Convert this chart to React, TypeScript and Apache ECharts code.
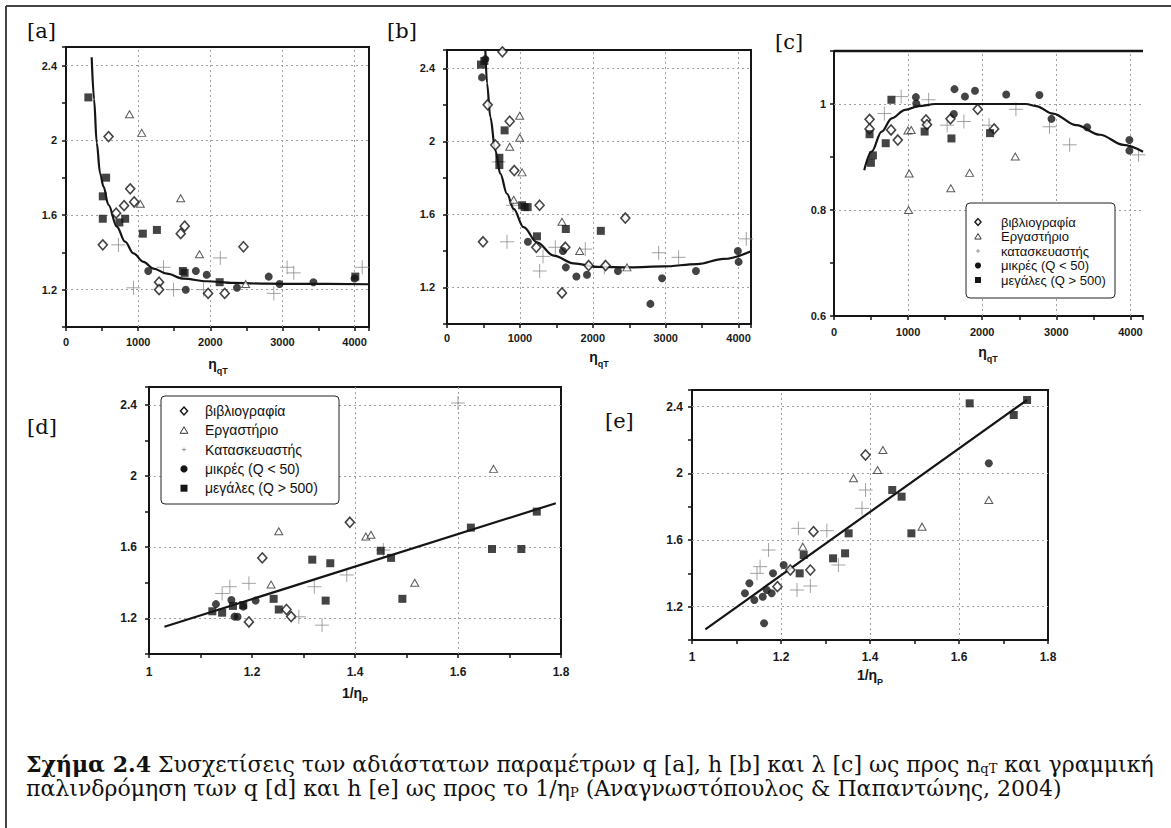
import { useEffect, useRef } from 'react';
import * as echarts from 'echarts';

type Pt = [number, number];

// ---------- [a] q vs n_qT ----------
const aSquares: Pt[] = [[310, 2.23], [556, 1.8], [510, 1.7], [510, 1.58], [820, 1.58], [740, 1.56], [1065, 1.5], [1260, 1.52], [1620, 1.3], [1644, 1.29], [2130, 1.24], [4010, 1.27]];
const aCircles: Pt[] = [[1140, 1.3], [1660, 1.2], [1800, 1.3], [1950, 1.28], [2370, 1.21], [2810, 1.27], [2960, 1.23], [3430, 1.24], [4000, 1.26]];
const aDiamonds: Pt[] = [[590, 2.02], [890, 1.74], [805, 1.65], [945, 1.67], [695, 1.61], [510, 1.44], [1590, 1.5], [1645, 1.54], [1290, 1.24], [1290, 1.2], [1970, 1.18], [2200, 1.18], [2460, 1.43]];
const aTriangles: Pt[] = [[880, 2.14], [1050, 2.04], [1030, 1.66], [1590, 1.69], [1850, 1.39], [2490, 1.23]];
const aCrosses: Pt[] = [[935, 1.21], [727, 1.44], [1352, 1.32], [1490, 1.2], [1907, 1.2], [2139, 1.37], [3065, 1.32], [3157, 1.29], [4106, 1.32], [2880, 1.18]];
const aCurve: Pt[] = [[356, 2.445], [389, 2.22], [426, 1.987], [472, 1.825], [519, 1.753], [588, 1.655], [704, 1.538], [819, 1.457], [935, 1.394], [1074, 1.349], [1213, 1.313], [1398, 1.286], [1630, 1.259], [1954, 1.245], [2324, 1.236], [2787, 1.232], [3250, 1.231], [4200, 1.229]];

// ---------- [b] h vs n_qT ----------
const bSquares: Pt[] = [[466, 2.42], [512, 2.44], [790, 2.06], [718, 1.91], [718, 1.87], [1030, 1.65], [1065, 1.64], [1106, 1.64], [1234, 1.48], [1630, 1.52], [2110, 1.51]];
const bCircles: Pt[] = [[480, 2.35], [526, 2.45], [1110, 1.45], [1590, 1.4], [1630, 1.31], [1775, 1.26], [1920, 1.27], [2345, 1.29], [2790, 1.11], [2950, 1.25], [3415, 1.29], [3990, 1.4], [4000, 1.34]];
const bDiamonds: Pt[] = [[558, 2.2], [860, 2.11], [663, 1.98], [923, 1.84], [1270, 1.65], [494, 1.45], [1225, 1.42], [1623, 1.42], [1577, 1.17], [1943, 1.32], [2176, 1.32], [2446, 1.58], [760, 2.49]];
const bTriangles: Pt[] = [[997, 2.14], [997, 2.02], [860, 1.97], [1030, 1.83], [915, 1.68], [1577, 1.56], [1820, 1.4], [2469, 1.31]];
const bCrosses: Pt[] = [[823, 1.45], [1271, 1.29], [1317, 1.37], [1486, 1.42], [1897, 1.41], [2158, 1.31], [2903, 1.39], [3177, 1.365], [4105, 1.466], [709, 1.887], [905, 1.65]];
const bCurve: Pt[] = [[526, 2.5], [549, 2.318], [594, 2.134], [663, 1.951], [731, 1.823], [823, 1.713], [914, 1.63], [1051, 1.53], [1234, 1.447], [1463, 1.374], [1737, 1.332], [2057, 1.313], [2514, 1.31], [2971, 1.315], [3429, 1.328], [3794, 1.356], [4170, 1.398]];

// ---------- [c] λ vs n_qT ----------
const cSquares: Pt[] = [[480, 0.943], [498, 0.889], [525, 0.903], [698, 0.926], [775, 1.008], [1223, 0.948], [1585, 0.935], [2106, 0.945]];
const cCircles: Pt[] = [[1105, 1.013], [1110, 1.001], [1626, 1.028], [1617, 0.981], [1767, 1.014], [1903, 1.025], [2324, 1.018], [2772, 1.017], [2935, 0.972], [3416, 0.956], [3986, 0.932], [3986, 0.912]];
const cDiamonds: Pt[] = [[480, 0.971], [480, 0.953], [770, 0.951], [861, 0.932], [1241, 0.97], [1255, 0.961], [1572, 0.972], [1939, 0.99], [2161, 0.953]];
const cTriangles: Pt[] = [[997, 0.95], [1042, 0.951], [1015, 0.869], [1006, 0.8], [1576, 0.841], [1830, 0.87], [2446, 0.901]];
const cCrosses: Pt[] = [[906, 1.014], [1277, 1.008], [1527, 0.96], [1753, 0.967], [2455, 0.99], [2908, 0.957], [3180, 0.923], [2093, 0.96], [4109, 0.904], [680, 0.982]];
const cCurve: Pt[] = [[408, 0.875], [507, 0.91], [643, 0.948], [779, 0.973], [960, 0.989], [1142, 0.996], [1368, 1.0], [2591, 1.0], [2727, 0.996], [2954, 0.982], [3271, 0.96], [3588, 0.942], [3905, 0.923], [4170, 0.91]];

// ---------- [d] q vs 1/η_P ----------
const dSquares: Pt[] = [[1.123, 1.24], [1.142, 1.232], [1.163, 1.27], [1.183, 1.275], [1.242, 1.31], [1.252, 1.25], [1.317, 1.53], [1.352, 1.51], [1.343, 1.3], [1.45, 1.58], [1.47, 1.54], [1.492, 1.31], [1.625, 1.71], [1.666, 1.59], [1.723, 1.59], [1.753, 1.8]];
const dCircles: Pt[] = [[1.13, 1.28], [1.16, 1.303], [1.166, 1.21], [1.172, 1.209], [1.183, 1.266], [1.207, 1.3]];
const dDiamonds: Pt[] = [[1.22, 1.54], [1.194, 1.18], [1.267, 1.25], [1.276, 1.21], [1.39, 1.74]];
const dTriangles: Pt[] = [[1.252, 1.69], [1.237, 1.39], [1.421, 1.66], [1.431, 1.67], [1.516, 1.4], [1.669, 2.04]];
const dCrosses: Pt[] = [[1.157, 1.378], [1.194, 1.397], [1.384, 1.444], [1.336, 1.162], [1.6, 2.41], [1.321, 1.378], [1.291, 1.209], [1.455, 1.584], [1.142, 1.34]];
const dLine: Pt[] = [[1.03, 1.153], [1.79, 1.847]];

// ---------- [e] h vs 1/η_P ----------
const eSquares: Pt[] = [[1.251, 1.51], [1.242, 1.4], [1.317, 1.49], [1.344, 1.52], [1.352, 1.64], [1.45, 1.9], [1.471, 1.86], [1.493, 1.64], [1.624, 2.42], [1.723, 2.35], [1.753, 2.44]];
const eCircles: Pt[] = [[1.119, 1.28], [1.129, 1.34], [1.14, 1.24], [1.159, 1.26], [1.162, 1.1], [1.168, 1.3], [1.179, 1.28], [1.182, 1.4], [1.206, 1.45], [1.667, 2.06]];
const eDiamonds: Pt[] = [[1.39, 2.11], [1.273, 1.65], [1.266, 1.42], [1.221, 1.42], [1.192, 1.32]];
const eTriangles: Pt[] = [[1.429, 2.14], [1.417, 2.02], [1.363, 1.97], [1.249, 1.56], [1.517, 1.68], [1.667, 1.84]];
const eCrosses: Pt[] = [[1.382, 1.79], [1.39, 1.9], [1.303, 1.656], [1.239, 1.67], [1.172, 1.54], [1.146, 1.4], [1.153, 1.44], [1.236, 1.3], [1.266, 1.324], [1.329, 1.45]];
const eLine: Pt[] = [[1.03, 1.064], [1.753, 2.44]];

// ---------- tick labels & grid lines ----------
const nqtLabels = [0, 1000, 2000, 3000, 4000];
const qhLabels = [1.2, 1.6, 2, 2.4];
const lambdaLabels = [0.6, 0.8, 1];
const etaLabels = [1, 1.2, 1.4, 1.6, 1.8];
const nqtGrid = [1000, 2000, 3000, 4000];
const qhGrid = [1.2, 1.6, 2, 2.4];
const lambdaGrid = [0.8, 1];
const dEtaGrid = [1.4, 1.6];
const eEtaGrid = [1.2, 1.4, 1.6];

const legendC = ['βιβλιογραφία', 'Εργαστήριο', 'κατασκευαστής', 'μικρές (Q < 50)', 'μεγάλες (Q > 500)'];
const legendD = ['βιβλιογραφία', 'Εργαστήριο', 'Κατασκευαστής', 'μικρές (Q < 50)', 'μεγάλες (Q > 500)'];
const panelLabels = ['[a]', '[b]', '[c]', '[d]', '[e]'];
const captionLine1 = '{b|Σχήμα 2.4} Συσχετίσεις των αδιάστατων παραμέτρων q [a], h [b] και λ [c] ως προς n{s|qT} και γραμμική';
const captionLine2 = 'παλινδρόμηση των q [d] και h [e] ως προς το 1/η{s|P} (Αναγνωστόπουλος & Παπαντώνης, 2004)';

const SANS = '"Liberation Sans", Arial, sans-serif';
const SERIF = '"DejaVu Serif", serif';
const INK = '#151515';

// layout (pixels)
const GRIDS = [
  { left: 66, top: 47, width: 303, height: 280 },
  { left: 447, top: 50, width: 304, height: 274 },
  { left: 834, top: 51, width: 309, height: 265 },
  { left: 149, top: 387, width: 412, height: 267 },
  { left: 692, top: 390, width: 356, height: 250 },
];

function has(arr: number[], v: number) {
  return arr.some((a) => Math.abs(a - v) < 1e-6);
}
function fmt(v: number) {
  return String(Math.round(v * 100) / 100);
}

function axisCfg(gi: number, min: number, max: number, interval: number, labels: number[], fs: number, margin: number) {
  return {
    type: 'value', gridIndex: gi, min, max, interval,
    axisLine: { show: true, onZero: false, lineStyle: { color: INK, width: 2 } },
    axisTick: { show: true, inside: false, length: 4, lineStyle: { color: INK, width: 1.5 } },
    axisLabel: {
      show: true, margin, color: '#1a1a1a', fontSize: fs, fontWeight: 'bold', fontFamily: SANS,
      hideOverlap: false, showMinLabel: true, showMaxLabel: true,
      formatter: (v: number) => (has(labels, v) ? fmt(v) : ''),
    },
    splitLine: { show: false },
  };
}

type Kind = 'sq' | 'ci' | 'di' | 'tr' | 'cr';
function sc(gi: number, data: Pt[], kind: Kind) {
  const base: any = { type: 'scatter', xAxisIndex: gi, yAxisIndex: gi, data, silent: true, z: kind === 'cr' ? 3 : 5, clip: true };
  if (kind === 'sq') return { ...base, symbol: 'rect', symbolSize: 8, itemStyle: { color: INK } };
  if (kind === 'ci') return { ...base, symbol: 'circle', symbolSize: 8, itemStyle: { color: INK } };
  if (kind === 'di') return { ...base, symbol: 'diamond', symbolSize: [9, 10], itemStyle: { color: '#fff', borderColor: INK, borderWidth: 1.6 } };
  if (kind === 'tr') return { ...base, symbol: 'triangle', symbolSize: [8, 7], itemStyle: { color: '#fff', borderColor: '#333', borderWidth: 1 } };
  return { ...base, symbol: 'path://M0,7H14M7,0V14', symbolSize: 14, itemStyle: { color: 'none', borderColor: '#8c8c8c', borderWidth: 1 } };
}
function curve(gi: number, data: Pt[], smooth: boolean) {
  return {
    type: 'line', xAxisIndex: gi, yAxisIndex: gi, data, smooth: smooth ? 0.35 : false, smoothMonotone: 'x',
    showSymbol: false, symbol: 'none', silent: true, z: 4, clip: true,
    lineStyle: { color: INK, width: 2.2 },
  };
}
function gridLines(gi: number, gx: number[], gy: number[]) {
  return {
    type: 'line', xAxisIndex: gi, yAxisIndex: gi, data: [], silent: true, z: 1, symbol: 'none',
    markLine: {
      z: 1, silent: true, symbol: ['none', 'none'], label: { show: false }, emphasis: { disabled: true },
      lineStyle: { color: '#a0a0a0', type: [2, 3], width: 1 },
      data: [...gx.map((v) => ({ xAxis: v })), ...gy.map((v) => ({ yAxis: v }))],
    },
  };
}

function legendEls(x: number, y: number, w: number, h: number, names: string[], row0: number, pitch: number, iconX: number, textX: number, fs: number, k: number) {
  const els: any[] = [{ type: 'rect', z: 100, shape: { x, y, width: w, height: h, r: 4 }, style: { fill: '#fff', stroke: '#222', lineWidth: 1 } }];
  names.forEach((n, i) => {
    const cy = row0 + i * pitch;
    if (i === 0) els.push({ type: 'polygon', z: 101, shape: { points: [[iconX, cy - 4 * k], [iconX + 3.6 * k, cy], [iconX, cy + 4 * k], [iconX - 3.6 * k, cy]] }, style: { fill: '#fff', stroke: INK, lineWidth: 1.4 } });
    if (i === 1) els.push({ type: 'polygon', z: 101, shape: { points: [[iconX, cy - 3.5 * k], [iconX + 3.8 * k, cy + 3 * k], [iconX - 3.8 * k, cy + 3 * k]] }, style: { fill: '#fff', stroke: '#333', lineWidth: 1 } });
    if (i === 2) {
      els.push({ type: 'line', z: 101, shape: { x1: iconX - 2, y1: cy, x2: iconX + 2, y2: cy }, style: { stroke: '#999', lineWidth: 1 } });
      els.push({ type: 'line', z: 101, shape: { x1: iconX, y1: cy - 2, x2: iconX, y2: cy + 2 }, style: { stroke: '#999', lineWidth: 1 } });
    }
    if (i === 3) els.push({ type: 'circle', z: 101, shape: { cx: iconX, cy, r: 3.6 * k }, style: { fill: INK } });
    if (i === 4) els.push({ type: 'rect', z: 101, shape: { x: iconX - 3.5 * k, y: cy - 3.5 * k, width: 7 * k, height: 7 * k }, style: { fill: INK } });
    els.push({ type: 'text', z: 101, x: textX, y: cy, style: { text: n, fill: '#111', fontSize: fs, fontFamily: SANS, verticalAlign: 'middle', align: 'left' } });
  });
  return els;
}

function axisTitle(cx: number, cy: number, main: string, sub: string) {
  return {
    type: 'text', z: 100, x: cx, y: cy,
    style: {
      text: `{m|${main}}{s|${sub}}`, align: 'center', verticalAlign: 'middle', fill: INK,
      rich: {
        m: { fontSize: 14, fontWeight: 'bold', fontFamily: SANS, fill: INK, lineHeight: 14 },
        s: { fontSize: 9, fontWeight: 'bold', fontFamily: SANS, fill: INK, lineHeight: 22, verticalAlign: 'bottom' },
      },
    },
  };
}

function caption(y: number, text: string) {
  return {
    type: 'text', z: 100, x: 26, y,
    style: {
      text, fill: '#111', fontSize: 22, lineHeight: 22, fontFamily: SERIF, verticalAlign: 'middle', align: 'left',
      rich: {
        b: { fontWeight: 'bold', fontSize: 22, lineHeight: 22, fontFamily: SERIF, fill: '#111' },
        s: { fontSize: 13, lineHeight: 22, fontFamily: SERIF, fill: '#111', verticalAlign: 'bottom' },
      },
    },
  };
}

function buildOption() {
  const gridDefs = GRIDS.map((g, i) => ({
    ...g, containLabel: false, outerBoundsMode: 'none',
    show: i !== 2, borderColor: INK, borderWidth: 2, backgroundColor: 'transparent',
  }));
  const xAxis = [
    axisCfg(0, 0, 4200, 500, nqtLabels, 11, 9),
    axisCfg(1, 0, 4170, 500, nqtLabels, 11, 8),
    axisCfg(2, 0, 4170, 500, nqtLabels, 11, 10),
    axisCfg(3, 1, 1.8, 0.1, etaLabels, 12, 12),
    axisCfg(4, 1, 1.8, 0.1, etaLabels, 12, 11),
  ];
  const yAxis = [
    axisCfg(0, 1, 2.5, 0.2, qhLabels, 11, 9),
    axisCfg(1, 1, 2.5, 0.2, qhLabels, 11, 12),
    axisCfg(2, 0.6, 1.1, 0.1, lambdaLabels, 11, 8),
    axisCfg(3, 1, 2.5, 0.2, qhLabels, 12, 12),
    axisCfg(4, 1, 2.5, 0.2, qhLabels, 12, 9),
  ];
  const series = [
    gridLines(0, nqtGrid, qhGrid), curve(0, aCurve, true),
    sc(0, aCrosses, 'cr'), sc(0, aTriangles, 'tr'), sc(0, aDiamonds, 'di'), sc(0, aCircles, 'ci'), sc(0, aSquares, 'sq'),
    gridLines(1, nqtGrid, qhGrid), curve(1, bCurve, true),
    sc(1, bCrosses, 'cr'), sc(1, bTriangles, 'tr'), sc(1, bDiamonds, 'di'), sc(1, bCircles, 'ci'), sc(1, bSquares, 'sq'),
    gridLines(2, nqtGrid, lambdaGrid), curve(2, cCurve, true),
    sc(2, cCrosses, 'cr'), sc(2, cTriangles, 'tr'), sc(2, cDiamonds, 'di'), sc(2, cCircles, 'ci'), sc(2, cSquares, 'sq'),
    gridLines(3, dEtaGrid, qhGrid), curve(3, dLine, false),
    sc(3, dCrosses, 'cr'), sc(3, dTriangles, 'tr'), sc(3, dDiamonds, 'di'), sc(3, dCircles, 'ci'), sc(3, dSquares, 'sq'),
    gridLines(4, eEtaGrid, qhGrid), curve(4, eLine, false),
    sc(4, eCrosses, 'cr'), sc(4, eTriangles, 'tr'), sc(4, eDiamonds, 'di'), sc(4, eCircles, 'ci'), sc(4, eSquares, 'sq'),
  ];
  const labelPos: [number, number][] = [[27, 31], [387, 31], [775, 42], [27, 427], [605, 421]];
  const graphic: any[] = [
    { type: 'line', z: 100, shape: { x1: 6, y1: 6, x2: 1171, y2: 6 }, style: { stroke: '#444', lineWidth: 2 } },
    { type: 'line', z: 100, shape: { x1: 6, y1: 6, x2: 6, y2: 828 }, style: { stroke: '#444', lineWidth: 2 } },
    { type: 'line', z: 100, shape: { x1: 834, y1: 51, x2: 1143, y2: 51 }, style: { stroke: INK, lineWidth: 2.5 } },
    ...panelLabels.map((t, i) => ({ type: 'text', z: 100, x: labelPos[i][0], y: labelPos[i][1], style: { text: t, fill: '#111', fontSize: 21, fontFamily: SERIF, verticalAlign: 'middle', align: 'left' } })),
    axisTitle(218, 364, 'η', 'qT'),
    axisTitle(599, 357, 'η', 'qT'),
    axisTitle(988, 352, 'η', 'qT'),
    axisTitle(355, 693, '1/η', 'P'),
    axisTitle(870, 675, '1/η', 'P'),
    ...legendEls(966, 203, 149, 95, legendC, 222, 14.5, 978, 1001, 13, 0.85),
    ...legendEls(161, 396, 178, 108, legendD, 411, 19.3, 184, 205, 14, 1),
    caption(764, captionLine1),
    caption(788, captionLine2),
  ];
  return { animation: false, backgroundColor: '#fff', grid: gridDefs, xAxis, yAxis, series, graphic };
}

export default function App() {
  const ref = useRef<HTMLDivElement>(null);
  useEffect(() => {
    document.body.style.margin = '0';
    if (!ref.current) return;
    const chart = echarts.init(ref.current, undefined, { renderer: 'svg' });
    chart.setOption(buildOption() as any);
    return () => chart.dispose();
  }, []);
  return <div ref={ref} style={{ position: 'absolute', left: 0, top: 0, width: 1171, height: 828 }} />;
}
